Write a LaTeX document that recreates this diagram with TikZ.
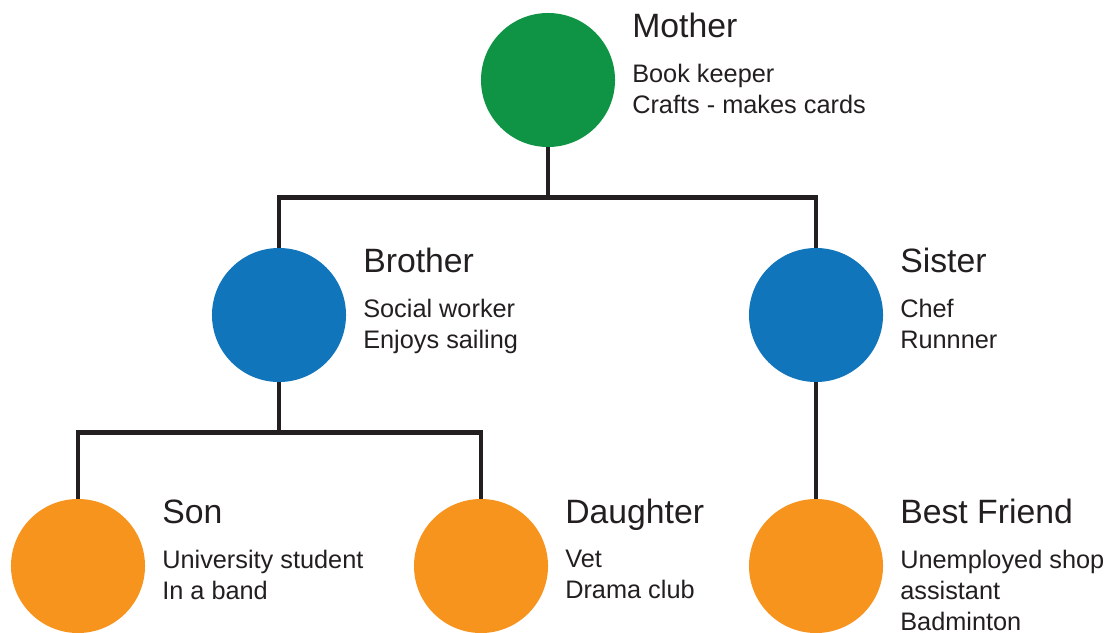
\documentclass[tikz,border=0pt]{standalone}
\usepackage{fontspec}
\setmainfont{Liberation Sans}
\usetikzlibrary{positioning}
\definecolor{momgreen}{RGB}{14,148,68}
\definecolor{sibblue}{RGB}{17,117,187}
\definecolor{kidorange}{RGB}{247,148,29}
\definecolor{linkgray}{RGB}{35,31,32}

\begin{document}
\begin{tikzpicture}[x=0.025cm, y=-0.025cm,
  person/.style={circle, minimum size=3.35cm, inner sep=0pt},
  who/.style={anchor=base west, inner sep=0pt, text=linkgray,
              font=\fontsize{24}{28}\selectfont},
  info/.style={anchor=north west, inner sep=0pt, align=left, text=linkgray,
               font=\fontsize{18}{22}\selectfont},
  link/.style={draw=linkgray, line width=3.5pt}]
  \useasboundingbox (0,0) rectangle (1108,632);
  % People: circle, name and notes
  \foreach \id/\cx/\cy/\col/\name/\notes in {
    mother/548/80/momgreen/Mother/{Book keeper\\Crafts - makes cards},
    brother/279/315/sibblue/Brother/{Social worker\\Enjoys sailing},
    sister/816/315/sibblue/Sister/{Chef\\Runnner},
    son/78/566/kidorange/Son/{University student\\In a band},
    daughter/481/566/kidorange/Daughter/{Vet\\Drama club},
    friend/816/566/kidorange/Best Friend/{Unemployed shop\\assistant\\Badminton}}{
    \node[person, fill=\col] (\id) at (\cx,\cy) {};
    \node[who] (\id-name) at (\cx+84,\cy-43) {\name};
    \node[info] (\id-notes) at (\cx+84,\cy-16) {\notes};
  }
  % Tree lines
  \draw[link] (mother.south) -- ++(0,50) coordinate (mj) -| (brother.north);
  \draw[link] (mj) -| (sister.north);
  \draw[link] (brother.south) -- ++(0,50) coordinate (bj) -| (son.north);
  \draw[link] (bj) -| (daughter.north);
  \draw[link] (sister) -- (friend);
\end{tikzpicture}
\end{document}
